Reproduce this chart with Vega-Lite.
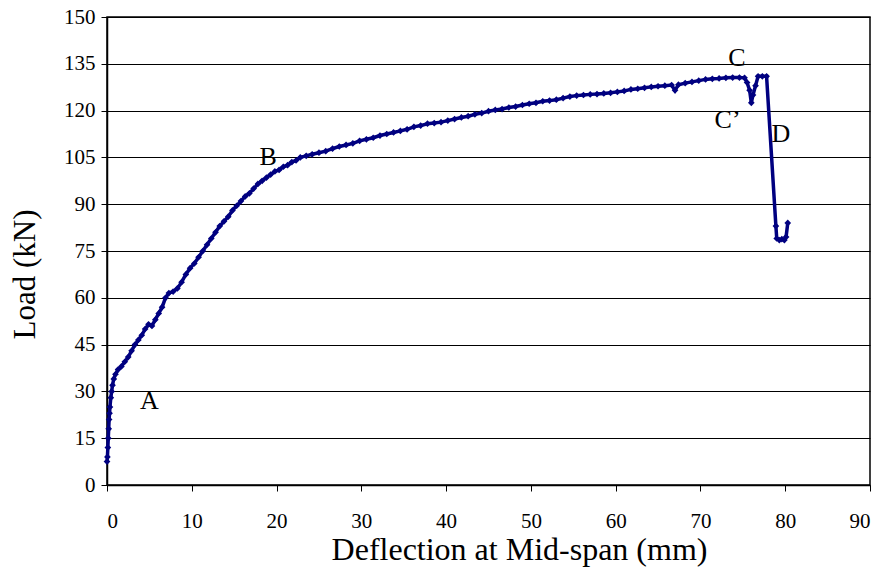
{
  "$schema": "https://vega.github.io/schema/vega-lite/v6.json",
  "width": 763,
  "height": 468,
  "autosize": {"type": "none"},
  "padding": {"left": 107, "top": 17, "right": 20, "bottom": 89},
  "background": "white",
  "config": {
    "font": "Liberation Serif",
    "view": {"stroke": "black", "strokeWidth": 1.5},
    "axis": {"labelFont": "Liberation Serif", "titleFont": "Liberation Serif", "labelColor": "black", "titleColor": "black", "domainColor": "black", "tickColor": "black", "titleFontWeight": "normal"}
  },
  "datasets": {
    "curve": [
      {"d": 0, "load": 7.5}, {"d": 0.05, "load": 9}, {"d": 0.1, "load": 12}, {"d": 0.15, "load": 15}, {"d": 0.2, "load": 18},
      {"d": 0.25, "load": 21}, {"d": 0.3, "load": 23}, {"d": 0.35, "load": 25}, {"d": 0.45, "load": 28}, {"d": 0.55, "load": 30},
      {"d": 0.65, "load": 32}, {"d": 0.8, "load": 34}, {"d": 1.0, "load": 35.5}, {"d": 1.3, "load": 37}, {"d": 1.7, "load": 38},
      {"d": 2.1, "load": 39.5}, {"d": 2.5, "load": 41}, {"d": 2.9, "load": 43}, {"d": 3.3, "load": 45}, {"d": 3.7, "load": 46.5},
      {"d": 4.1, "load": 48}, {"d": 4.5, "load": 50}, {"d": 4.9, "load": 51.5}, {"d": 5.3, "load": 51}, {"d": 5.7, "load": 53},
      {"d": 6.1, "load": 55}, {"d": 6.5, "load": 57}, {"d": 6.9, "load": 60}, {"d": 7.3, "load": 61.5}, {"d": 7.8, "load": 62},
      {"d": 8.3, "load": 63}, {"d": 8.8, "load": 65}, {"d": 9.3, "load": 67.5}, {"d": 9.8, "load": 69.5}, {"d": 10.3, "load": 71},
      {"d": 10.8, "load": 73}, {"d": 11.3, "load": 75}, {"d": 11.8, "load": 77}, {"d": 12.3, "load": 79}, {"d": 12.8, "load": 81},
      {"d": 13.3, "load": 83}, {"d": 13.8, "load": 84.5}, {"d": 14.3, "load": 86}, {"d": 14.8, "load": 88}, {"d": 15.3, "load": 89.5},
      {"d": 15.8, "load": 91}, {"d": 16.3, "load": 92.5}, {"d": 16.8, "load": 93.5}, {"d": 17.3, "load": 95}, {"d": 17.8, "load": 96.5},
      {"d": 18.3, "load": 97.5}, {"d": 18.8, "load": 98.5}, {"d": 19.3, "load": 99.5}, {"d": 19.8, "load": 100.5}, {"d": 20.3, "load": 101},
      {"d": 20.8, "load": 102}, {"d": 21.3, "load": 102.5}, {"d": 21.8, "load": 103.5}, {"d": 22.3, "load": 104}, {"d": 22.8, "load": 105},
      {"d": 23.5, "load": 105.5}, {"d": 24.2, "load": 106}, {"d": 25, "load": 106.5}, {"d": 25.8, "load": 107}, {"d": 26.6, "load": 107.8},
      {"d": 27.4, "load": 108.5}, {"d": 28.2, "load": 109}, {"d": 29, "load": 109.5}, {"d": 29.8, "load": 110.3}, {"d": 30.6, "load": 110.8},
      {"d": 31.4, "load": 111.3}, {"d": 32.2, "load": 112}, {"d": 33, "load": 112.5}, {"d": 33.8, "load": 113}, {"d": 34.6, "load": 113.5},
      {"d": 35.4, "load": 114}, {"d": 36.2, "load": 114.8}, {"d": 37, "load": 115.2}, {"d": 37.8, "load": 115.8}, {"d": 38.6, "load": 116},
      {"d": 39.4, "load": 116.3}, {"d": 40.2, "load": 116.8}, {"d": 41, "load": 117.3}, {"d": 41.8, "load": 117.8}, {"d": 42.6, "load": 118.2},
      {"d": 43.4, "load": 118.8}, {"d": 44.2, "load": 119.2}, {"d": 45, "load": 119.8}, {"d": 45.8, "load": 120.2}, {"d": 46.6, "load": 120.5},
      {"d": 47.4, "load": 121}, {"d": 48.2, "load": 121.3}, {"d": 49, "load": 121.8}, {"d": 49.8, "load": 122.2}, {"d": 50.6, "load": 122.5},
      {"d": 51.4, "load": 123}, {"d": 52.2, "load": 123.2}, {"d": 53, "load": 123.5}, {"d": 53.8, "load": 124}, {"d": 54.6, "load": 124.5},
      {"d": 55.4, "load": 124.8}, {"d": 56.2, "load": 125}, {"d": 57, "load": 125.2}, {"d": 57.8, "load": 125.3}, {"d": 58.6, "load": 125.5},
      {"d": 59.4, "load": 125.7}, {"d": 60.2, "load": 126}, {"d": 61, "load": 126.3}, {"d": 61.8, "load": 126.8}, {"d": 62.6, "load": 127},
      {"d": 63.4, "load": 127.3}, {"d": 64.2, "load": 127.6}, {"d": 65, "load": 127.8}, {"d": 65.8, "load": 128}, {"d": 66.6, "load": 128.2},
      {"d": 67, "load": 126.5}, {"d": 67.4, "load": 128.3}, {"d": 68.2, "load": 128.8}, {"d": 69, "load": 129.2}, {"d": 69.8, "load": 129.6},
      {"d": 70.6, "load": 130}, {"d": 71.4, "load": 130.2}, {"d": 72.2, "load": 130.3}, {"d": 73, "load": 130.5}, {"d": 73.8, "load": 130.6},
      {"d": 74.6, "load": 130.6}, {"d": 75.2, "load": 130.5}, {"d": 75.5, "load": 129}, {"d": 75.8, "load": 126.5}, {"d": 76.0, "load": 122.5},
      {"d": 76.2, "load": 125}, {"d": 76.5, "load": 128}, {"d": 76.8, "load": 131}, {"d": 77.3, "load": 131}, {"d": 77.8, "load": 131},
      {"d": 78.9, "load": 83}, {"d": 79.0, "load": 79}, {"d": 79.3, "load": 78.5}, {"d": 79.6, "load": 78.8}, {"d": 79.9, "load": 78.5},
      {"d": 80.1, "load": 79.5}, {"d": 80.3, "load": 84}
    ],
    "labels": [
      {"d": 5, "load": 27, "t": "A"},
      {"d": 19, "load": 105, "t": "B"},
      {"d": 74.3, "load": 137, "t": "C"},
      {"d": 73.2, "load": 117, "t": "C’"},
      {"d": 79.5, "load": 112.5, "t": "D"}
    ]
  },
  "encoding": {
    "x": {"field": "d", "type": "quantitative", "scale": {"domain": [0, 90], "nice": false},
      "axis": {"values": [0,10,20,30,40,50,60,70,80,90], "title": "Deflection at Mid-span (mm)", "grid": false, "labelFontSize": 21, "titleFontSize": 32, "tickSize": 6, "labelPadding": 19, "titlePadding": 3, "titleX": 412, "titleAlign": "center", "domainWidth": 1.5}},
    "y": {"field": "load", "type": "quantitative", "scale": {"domain": [0, 150], "nice": false},
      "axis": {"values": [0,15,30,45,60,75,90,105,120,135,150], "title": "Load (kN)", "grid": true, "gridColor": "black", "gridOpacity": 1, "gridWidth": 1.2, "labelFontSize": 21, "titleFontSize": 31, "tickSize": 6, "labelPadding": 6, "titlePadding": 22, "titleY": 257, "titleAlign": "center", "domainWidth": 1.5}}
  },
  "layer": [
    {"data": {"name": "curve"}, "mark": {"type": "line", "color": "#000080", "strokeWidth": 3.5}},
    {"data": {"name": "curve"}, "mark": {"type": "point", "filled": true, "shape": "diamond", "color": "#000080", "size": 45, "opacity": 1}},
    {"data": {"name": "labels"}, "mark": {"type": "text", "fontSize": 26, "font": "Liberation Serif", "color": "black", "align": "center", "baseline": "middle"},
      "encoding": {"text": {"field": "t", "type": "nominal"}}}
  ]
}
